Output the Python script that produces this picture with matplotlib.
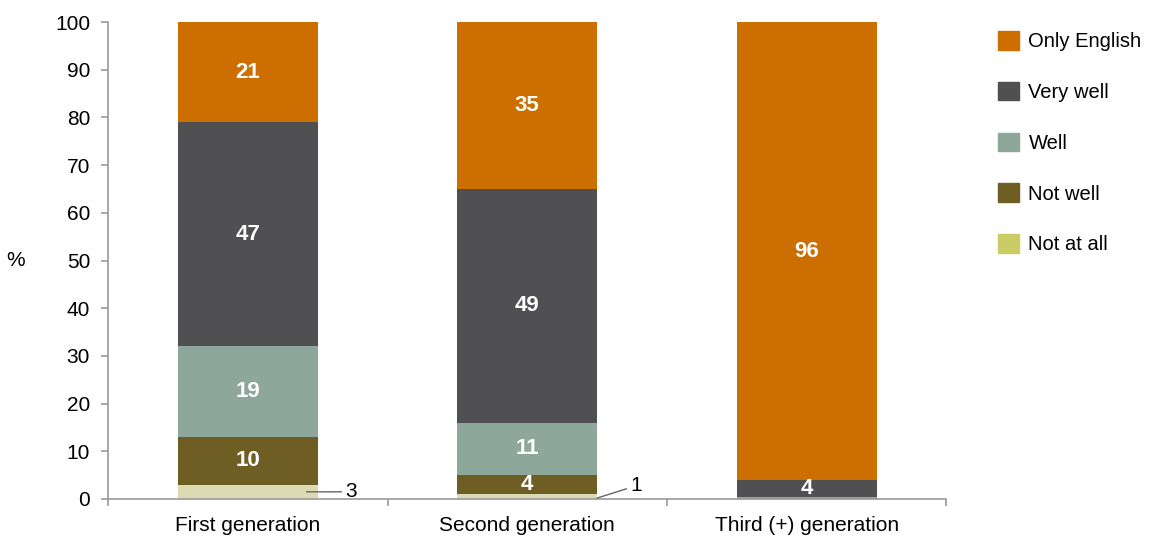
import numpy as np
import matplotlib.pyplot as plt
from matplotlib.patches import Patch

plt.rcParams['font.family'] = ['Liberation Sans', 'DejaVu Sans']

generations = ["First generation", "Second generation", "Third (+) generation"]
levels = ["Not at all", "Not well", "Well", "Very well", "Only English"]
not_at_all = [3, 1, 0]
not_well = [10, 4, 0]
well = [19, 11, 0.5]
very_well = [47, 49, 3.5]
only_english = [21, 35, 96]
label_text = {
    "Not well": ["10", "4", ""],
    "Well": ["19", "11", ""],
    "Very well": ["47", "49", "4"],
    "Only English": ["21", "35", "96"],
}

bar_colors = ["#DCDAB3", "#6F5E24", "#8DA89A", "#505052", "#CC6F00"]
legend_colors = ["#CCCC66", "#6F5E24", "#8DA89A", "#505052", "#CC6F00"]

fig = plt.figure(figsize=(11.5, 5.37), dpi=100)
ax = fig.add_axes([0.094, 0.0708, 0.729, 0.888])

x = np.arange(len(generations))
series = [not_at_all, not_well, well, very_well, only_english]
bottom = np.zeros(len(generations))
for name, vals, col in zip(levels, series, bar_colors):
    vals = np.array(vals, dtype=float)
    ax.bar(x, vals, 0.5, bottom=bottom, color=col, linewidth=0)
    if name in label_text:
        for i, t in enumerate(label_text[name]):
            if t:
                ax.text(x[i], bottom[i] + vals[i] / 2, t, ha="center", va="center",
                        color="white", fontsize=16, fontweight="bold")
    bottom += vals

# small-value callouts
ax.annotate("3", xy=(0.21, not_at_all[0] / 2), xytext=(0.35, not_at_all[0] / 2),
            fontsize=15, va="center", ha="left",
            arrowprops=dict(arrowstyle="-", color="#666666", lw=1, shrinkA=1, shrinkB=0))
ax.annotate("1", xy=(1.25, 0.2), xytext=(1.37, 2.8),
            fontsize=15, va="center", ha="left",
            arrowprops=dict(arrowstyle="-", color="#666666", lw=1, shrinkA=1, shrinkB=0))

ax.set_xlim(-0.5, 2.5)
ax.set_ylim(0, 100)
ax.set_yticks(range(0, 101, 10))
ax.set_xticks(x)
ax.set_xticklabels(generations, fontsize=15)
ax.set_xticks([-0.5, 0.5, 1.5, 2.5], minor=True)
ax.tick_params(axis="x", which="major", length=0, pad=12)
ax.tick_params(axis="x", which="minor", length=5, color="#999999", width=1.2)
ax.tick_params(axis="y", length=5, color="#999999", width=1.2, labelsize=15, pad=8)
for s in ["top", "right"]:
    ax.spines[s].set_visible(False)
for s in ["left", "bottom"]:
    ax.spines[s].set_color("#999999")
    ax.spines[s].set_linewidth(1.2)

ax.set_ylabel("%", rotation=0, fontsize=15, labelpad=28, va="center")

handles = [Patch(color=c, label=l) for l, c in zip(levels, legend_colors)][::-1]
fig.legend(handles=handles, loc="upper left", bbox_to_anchor=(0.868, 0.9425),
           frameon=False, fontsize=14.5, handlelength=1.05, handleheight=1.05,
           labelspacing=1.52, handletextpad=0.45, borderpad=0, borderaxespad=0)

fig.savefig("out.png", dpi=100)
